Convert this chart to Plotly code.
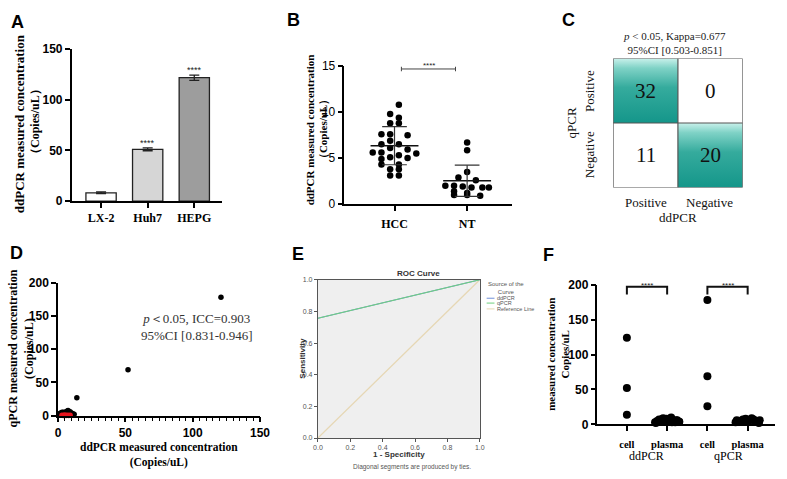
import plotly.graph_objects as go

W, H = 787, 479
SERIF = "Liberation Serif"
SANS = "Liberation Sans"

# ---------------- DATA ----------------
# A: cell lines ddPCR
a_cells = ["LX-2", "Huh7", "HEPG"]
a_vals = [8.2, 51.0, 121.5]
a_err = [0.8, 1.4, 2.6]
a_sig = ["", "****", "****"]
a_colors = ["#ffffff", "#d6d6d6", "#9d9d9d"]

# B: HCC vs NT
b_groups = ["HCC", "NT"]
b_hcc = [10.8, 9.8, 9.4, 8.8, 8.8, 7.6, 7.6, 7.5, 6.9, 6.5, 6.5, 6.1, 5.95,
         5.6, 5.6, 5.5, 5.3, 5.1, 5.0, 4.9, 4.3, 4.3, 3.8, 3.8, 3.1, 3.1]
b_hcc_off = [0.06, -0.06, 0.06, -0.06, 0.06, -0.18, -0.06, 0.18, -0.06, 0.06, -0.18, -0.06, 0.18,
             -0.30, -0.18, 0.30, 0.06, -0.06, 0.18, -0.18, -0.18, 0.06, -0.06, 0.06, -0.06, 0.06]
b_nt = [6.7, 5.85, 3.5, 2.9, 2.6, 2.0, 2.0, 1.9, 1.8, 1.8, 1.8, 1.4, 1.2, 1.0, 1.0, 0.9]
b_nt_off = [0.0, 0.0, 0.0, -0.12, 0.12, -0.30, -0.18, -0.06, 0.06, 0.21, 0.30, -0.18, 0.0, -0.18, 0.0, 0.18]
b_mean = [6.35, 2.53]
b_sd = [2.07, 1.70]

# C: agreement table (rows qPCR, cols ddPCR)
c_labels = ["Positive", "Negative"]
c_counts = [[32, 0], [11, 20]]

# D: ddPCR vs qPCR
d_x = [121, 52, 14, 1, 2, 3, 4, 5, 6, 7, 7.5, 8, 8.5, 9, 10, 11, 12, 5, 6, 4, 9, 10, 2, 3]
d_y = [178, 69, 27, 3, 4, 3, 5, 2, 6, 7, 8, 6, 5, 4, 3, 3, 2, 4, 5, 2, 6, 4, 2, 5]
d_x_red = [3, 4, 5, 6, 7, 8, 9]
d_y_red = [0.5, 0.3, 1.0, 0.2, 0.8, 0.4, 0.6]

# E: ROC
e_fpr = [0.0, 1.0]
e_tpr_ddpcr = [0.757, 1.0]
e_tpr_qpcr = [0.757, 1.0]
e_ref = [0.0, 1.0]
e_ticks = [0.0, 0.2, 0.4, 0.6, 0.8, 1.0]

# F: cell vs plasma
f_cats = ["cell", "plasma", "cell", "plasma"]
f_groups = ["ddPCR", "qPCR"]
f_dd_cell = [124, 52, 14]
f_dd_plasma = [3, 5, 7, 9, 4, 6, 8, 10, 5, 3, 6, 4, 7, 5, 2, 6, 8, 4, 5, 3]
f_dd_plasma_off = [-0.3, -0.25, -0.2, -0.1, -0.05, 0.0, 0.05, 0.1, 0.15, 0.2, 0.25, 0.3,
                   -0.15, 0.1, -0.28, 0.22, -0.02, 0.3, -0.12, 0.12]
f_q_cell = [178, 69, 26]
f_q_plasma = [3, 5, 7, 8, 4, 6, 9, 5, 3, 6, 4, 7, 5, 2, 4, 6]
f_q_plasma_off = [-0.3, -0.22, -0.12, -0.05, 0.0, 0.05, 0.1, 0.18, 0.25, 0.3, -0.18, 0.15,
                  -0.08, 0.28, 0.22, -0.27]

# ---------------- HELPERS ----------------
def px(x):
    return x / W

def py(y):
    return 1 - y / H

annotations = []
shapes = []

def ann(text, x, y, size, family=SERIF, color="black", angle=0, xanchor="center", yanchor="middle"):
    annotations.append(dict(text=text, x=px(x), y=py(y), xref="paper", yref="paper",
                            showarrow=False, textangle=angle, xanchor=xanchor, yanchor=yanchor,
                            font=dict(size=size, family=family, color=color)))

fig = go.Figure()

axis_common = dict(showgrid=False, zeroline=False, showline=True, linecolor="black",
                   linewidth=1.5, ticks="outside", tickcolor="black", tickwidth=1.5, ticklen=5)

# ---------------- A ----------------
fig.add_trace(go.Bar(x=a_cells, y=a_vals, width=0.65, xaxis="x", yaxis="y",
                     marker=dict(color=a_colors, line=dict(color="#222", width=1.3)),
                     error_y=dict(type="data", array=a_err, color="#222", thickness=1.3, width=5)))
for c, v, e, s in zip(a_cells, a_vals, a_err, a_sig):
    if s:
        annotations.append(dict(text=s, x=c, y=v + e, xref="x", yref="y", showarrow=False,
                                yanchor="bottom", yshift=-2, font=dict(size=9, family=SANS, color="#222")))

# ---------------- B ----------------
fig.add_trace(go.Scatter(x=[0 + o for o in b_hcc_off], y=b_hcc, mode="markers", xaxis="x2", yaxis="y2",
                         marker=dict(size=6.5, color="black"), cliponaxis=False))
fig.add_trace(go.Scatter(x=[1 + o for o in b_nt_off], y=b_nt, mode="markers", xaxis="x2", yaxis="y2",
                         marker=dict(size=6.5, color="black"), cliponaxis=False))
for i, (m, s) in enumerate(zip(b_mean, b_sd)):
    fig.add_trace(go.Scatter(x=[i - 0.33, i + 0.33], y=[m, m], mode="lines", xaxis="x2", yaxis="y2",
                             line=dict(color="#111", width=1.6)))
    fig.add_trace(go.Scatter(x=[i - 0.17, i + 0.17, None, i, i, None, i - 0.17, i + 0.17],
                             y=[m + s, m + s, None, m + s, m - s, None, m - s, m - s],
                             mode="lines", xaxis="x2", yaxis="y2", line=dict(color="#333", width=1.2)))
fig.add_trace(go.Scatter(x=[0.095, 0.095, None, 0.095, 0.84, None, 0.84, 0.84],
                         y=[14.45, 14.95, None, 14.7, 14.7, None, 14.45, 14.95],
                         mode="lines", xaxis="x2", yaxis="y2", line=dict(color="#444", width=1)))
annotations.append(dict(text="****", x=0.47, y=14.7, xref="x2", yref="y2", showarrow=False,
                        yanchor="bottom", yshift=-3, font=dict(size=8, family=SANS, color="#222")))

# ---------------- C ----------------
for i in range(2):
    for j in range(2):
        x0, x1 = j, j + 1
        y0, y1 = 1 - i, 2 - i
        if i == j:
            fig.add_trace(go.Scatter(x=[x0, x1, x1, x0, x0], y=[y0, y0, y1, y1, y0], mode="lines",
                                     fill="toself", xaxis="x3", yaxis="y3", line=dict(width=0),
                                     fillgradient=dict(type="vertical",
                                                       colorscale=[[0, "#14968a"], [0.55, "#35ab9d"],
                                                                   [0.85, "#7fd2c6"], [1, "#c9f1eb"]])))
        annotations.append(dict(text=str(c_counts[i][j]), x=j + 0.5, y=1.5 - i, xref="x3", yref="y3",
                                showarrow=False, font=dict(size=21, family=SERIF, color="#111")))
for v in [0, 1, 2]:
    shapes.append(dict(type="line", xref="x3", yref="y3", x0=v, x1=v, y0=0, y1=2,
                       line=dict(color="#555", width=1.2)))
    shapes.append(dict(type="line", xref="x3", yref="y3", x0=0, x1=2, y0=v, y1=v,
                       line=dict(color="#555", width=1.2)))

# ---------------- D ----------------
fig.add_trace(go.Scatter(x=d_x, y=d_y, mode="markers", xaxis="x4", yaxis="y4", cliponaxis=False,
                         marker=dict(size=5.5, color="black")))
fig.add_trace(go.Scatter(x=d_x_red, y=d_y_red, mode="markers", xaxis="x4", yaxis="y4", cliponaxis=False,
                         marker=dict(size=5.5, color="#e8141e")))

# ---------------- E ----------------
shapes.append(dict(type="rect", xref="x5 domain", yref="y5 domain", x0=0, x1=1, y0=0, y1=1,
                   fillcolor="#efefef", line=dict(width=0), layer="below"))
fig.add_trace(go.Scatter(x=e_fpr, y=e_ref, mode="lines", xaxis="x5", yaxis="y5",
                         line=dict(color="#e6d7b4", width=1.2)))
fig.add_trace(go.Scatter(x=e_fpr, y=e_tpr_ddpcr, mode="lines", xaxis="x5", yaxis="y5",
                         line=dict(color="#6f8fd8", width=1.2)))
fig.add_trace(go.Scatter(x=e_fpr, y=e_tpr_qpcr, mode="lines", xaxis="x5", yaxis="y5",
                         line=dict(color="#6fcf7f", width=1.2)))

# ---------------- F ----------------
fig.add_trace(go.Scatter(x=[0] * len(f_dd_cell), y=f_dd_cell, mode="markers", xaxis="x6", yaxis="y6",
                         marker=dict(size=8, color="black"), cliponaxis=False))
fig.add_trace(go.Scatter(x=[1 + o for o in f_dd_plasma_off], y=f_dd_plasma, mode="markers",
                         xaxis="x6", yaxis="y6", marker=dict(size=8, color="black"), cliponaxis=False))
fig.add_trace(go.Scatter(x=[2] * len(f_q_cell), y=f_q_cell, mode="markers", xaxis="x6", yaxis="y6",
                         marker=dict(size=8, color="black"), cliponaxis=False))
fig.add_trace(go.Scatter(x=[3 + o for o in f_q_plasma_off], y=f_q_plasma, mode="markers",
                         xaxis="x6", yaxis="y6", marker=dict(size=8, color="black"), cliponaxis=False))
for a, b in [(0, 1), (2, 3)]:
    fig.add_trace(go.Scatter(x=[a, a, b, b], y=[186, 197, 197, 186], mode="lines", xaxis="x6", yaxis="y6",
                             line=dict(color="#111", width=2), cliponaxis=False))
    annotations.append(dict(text="****", x=(a + b) / 2, y=197, xref="x6", yref="y6", showarrow=False,
                            yanchor="middle", yshift=1, font=dict(size=8, family=SANS, color="#222")))

# ---------------- LAYOUT ----------------
bold_sans12 = dict(size=12, family=SANS, color="black", weight="bold")
bold_serif12 = dict(size=12, family=SERIF, color="black", weight="bold")
bold_serif11 = dict(size=10.5, family=SERIF, color="black", weight="bold")

layout = dict(
    width=W, height=H, margin=dict(l=0, r=0, t=0, b=0),
    paper_bgcolor="white", plot_bgcolor="white", showlegend=False,
    # A
    xaxis=dict(domain=[px(68), px(221)], range=[-0.63, 2.59], anchor="y", tickfont=bold_serif12,
               **axis_common),
    yaxis=dict(domain=[py(200), py(43)], range=[0, 150], anchor="x", tickvals=[0, 50, 100, 150],
               tickfont=bold_sans12, **axis_common),
    # B
    xaxis2=dict(domain=[px(346), px(517)], range=[-0.69, 1.62], anchor="y2", tickvals=[0, 1],
                ticktext=b_groups, tickfont=bold_serif12, ticklabelstandoff=3, **axis_common),
    yaxis2=dict(domain=[py(203), py(61)], range=[0, 15], anchor="x2", tickvals=[0, 5, 10, 15],
                tickfont=dict(size=12, family=SANS, color="black"), **axis_common),
    # C
    xaxis3=dict(domain=[px(620), px(752)], range=[0, 2], anchor="y3", visible=False),
    yaxis3=dict(domain=[py(186), py(53)], range=[0, 2], anchor="x3", visible=False),
    # D
    xaxis4=dict(domain=[px(54), px(260)], range=[0, 150], anchor="y4", tickvals=[0, 50, 100, 150],
                tickfont=bold_sans12, minor=dict(dtick=5, ticks="outside", ticklen=4, tickcolor="black",
                                                 tickwidth=1.3), **axis_common),
    yaxis4=dict(domain=[py(421), py(284)], range=[0, 200], anchor="x4", tickvals=[0, 50, 100, 150, 200],
                tickfont=bold_sans12, **axis_common),
    # E
    xaxis5=dict(domain=[px(319), px(484)], range=[0, 1], anchor="y5", showgrid=False, zeroline=False,
                showline=True, mirror=True, linecolor="#555", linewidth=1, ticks="outside", ticklen=3,
                tickcolor="#555", tickvals=e_ticks, ticktext=["%.1f" % t for t in e_ticks],
                tickfont=dict(size=7, family=SANS, color="#555")),
    yaxis5=dict(domain=[py(444), py(281)], range=[0, 1], anchor="x5", showgrid=False, zeroline=False,
                showline=True, mirror=True, linecolor="#555", linewidth=1, ticks="outside", ticklen=3,
                tickcolor="#555", tickvals=e_ticks, ticktext=["%.1f" % t for t in e_ticks],
                tickfont=dict(size=7, family=SANS, color="#555")),
    # F
    xaxis6=dict(domain=[px(604), px(785)], range=[-0.73, 3.68], anchor="y6", tickvals=[0, 1, 2, 3],
                ticktext=f_cats, tickfont=bold_serif11, ticklabelstandoff=4, **axis_common),
    yaxis6=dict(domain=[py(430), py(286)], range=[0, 200], anchor="x6", tickvals=[0, 50, 100, 150, 200],
                tickfont=bold_sans12, **axis_common),
)

# Panel letters
for letter, x, y in [("A", 13, 15), ("B", 294, 13), ("C", 574, 13), ("D", 12, 253), ("E", 299, 254),
                     ("F", 554, 255)]:
    ann("<b>%s</b>" % letter, x, y, 18, family=SANS)

# A titles
ann("<b>ddPCR measured concentration</b>", 15, 120, 13, angle=-90)
ann("<b>（Copies/uL）</b>", 30, 118, 12, angle=-90)
# B titles
ann("<b>ddPCR measured concentration</b>", 311, 127, 11, angle=-90)
ann("<b>（Copies/uL）</b>", 325, 126, 11, angle=-90)
# C texts
ann("<i>p</i> < 0.05, Kappa=0.677<br>95%CI [0.503-0.851]", 682, 37, 11, color="#222")
ann(c_labels[0], 596, 87, 13, angle=-90, color="#111")
ann(c_labels[1], 596, 152, 13, angle=-90, color="#111")
ann("qPCR", 578, 119, 13, angle=-90, color="#111")
ann(c_labels[0], 653, 201, 13, color="#111")
ann(c_labels[1], 718, 201, 13, color="#111")
ann("ddPCR", 686, 217, 13, color="#111")
# D texts
ann("<i>p</i>＜0.05, ICC=0.903<br>95%CI [0.831-0.946]", 196, 330, 13, color="#333")
ann("<b>ddPCR measured concentration<br>(Copies/uL)</b>", 157, 461, 11.5)
ann("<b>qPCR measured concentration<br>(Copies/uL)</b>", 16, 352, 12, angle=-90)
# E texts
ann("<b>ROC Curve</b>", 422, 275, 8, family=SANS, color="#333")
ann("<b>Sensitivity</b>", 303, 362, 8, family=SANS, color="#333", angle=-90)
ann("<b>1 - Specificity</b>", 402, 461, 8, family=SANS, color="#333")
ann("Diagonal segments are produced by ties.", 415, 474, 6.5, family=SANS, color="#555")
ann("Source of the<br>Curve", 511, 289, 6, family=SANS, color="#555")
for lbl, col, yy in [("ddPCR", "#6f8fd8", 300), ("qPCR", "#6fcf7f", 305), ("Reference Line", "#e6d7b4", 311)]:
    shapes.append(dict(type="line", xref="paper", yref="paper", x0=px(491), x1=px(499), y0=py(yy), y1=py(yy),
                       line=dict(color=col, width=1)))
    ann(lbl, 500, yy, 5.5, family=SANS, color="#555", xanchor="left")
# F texts
ann("<b>measured concentration<br>Copies/uL</b>", 563, 358, 11, angle=-90)
ann(f_groups[0], 654, 463, 12)
ann(f_groups[1], 738, 463, 12)

layout["annotations"] = annotations
layout["shapes"] = shapes
fig.update_layout(**layout)
fig.write_html("out.html")
